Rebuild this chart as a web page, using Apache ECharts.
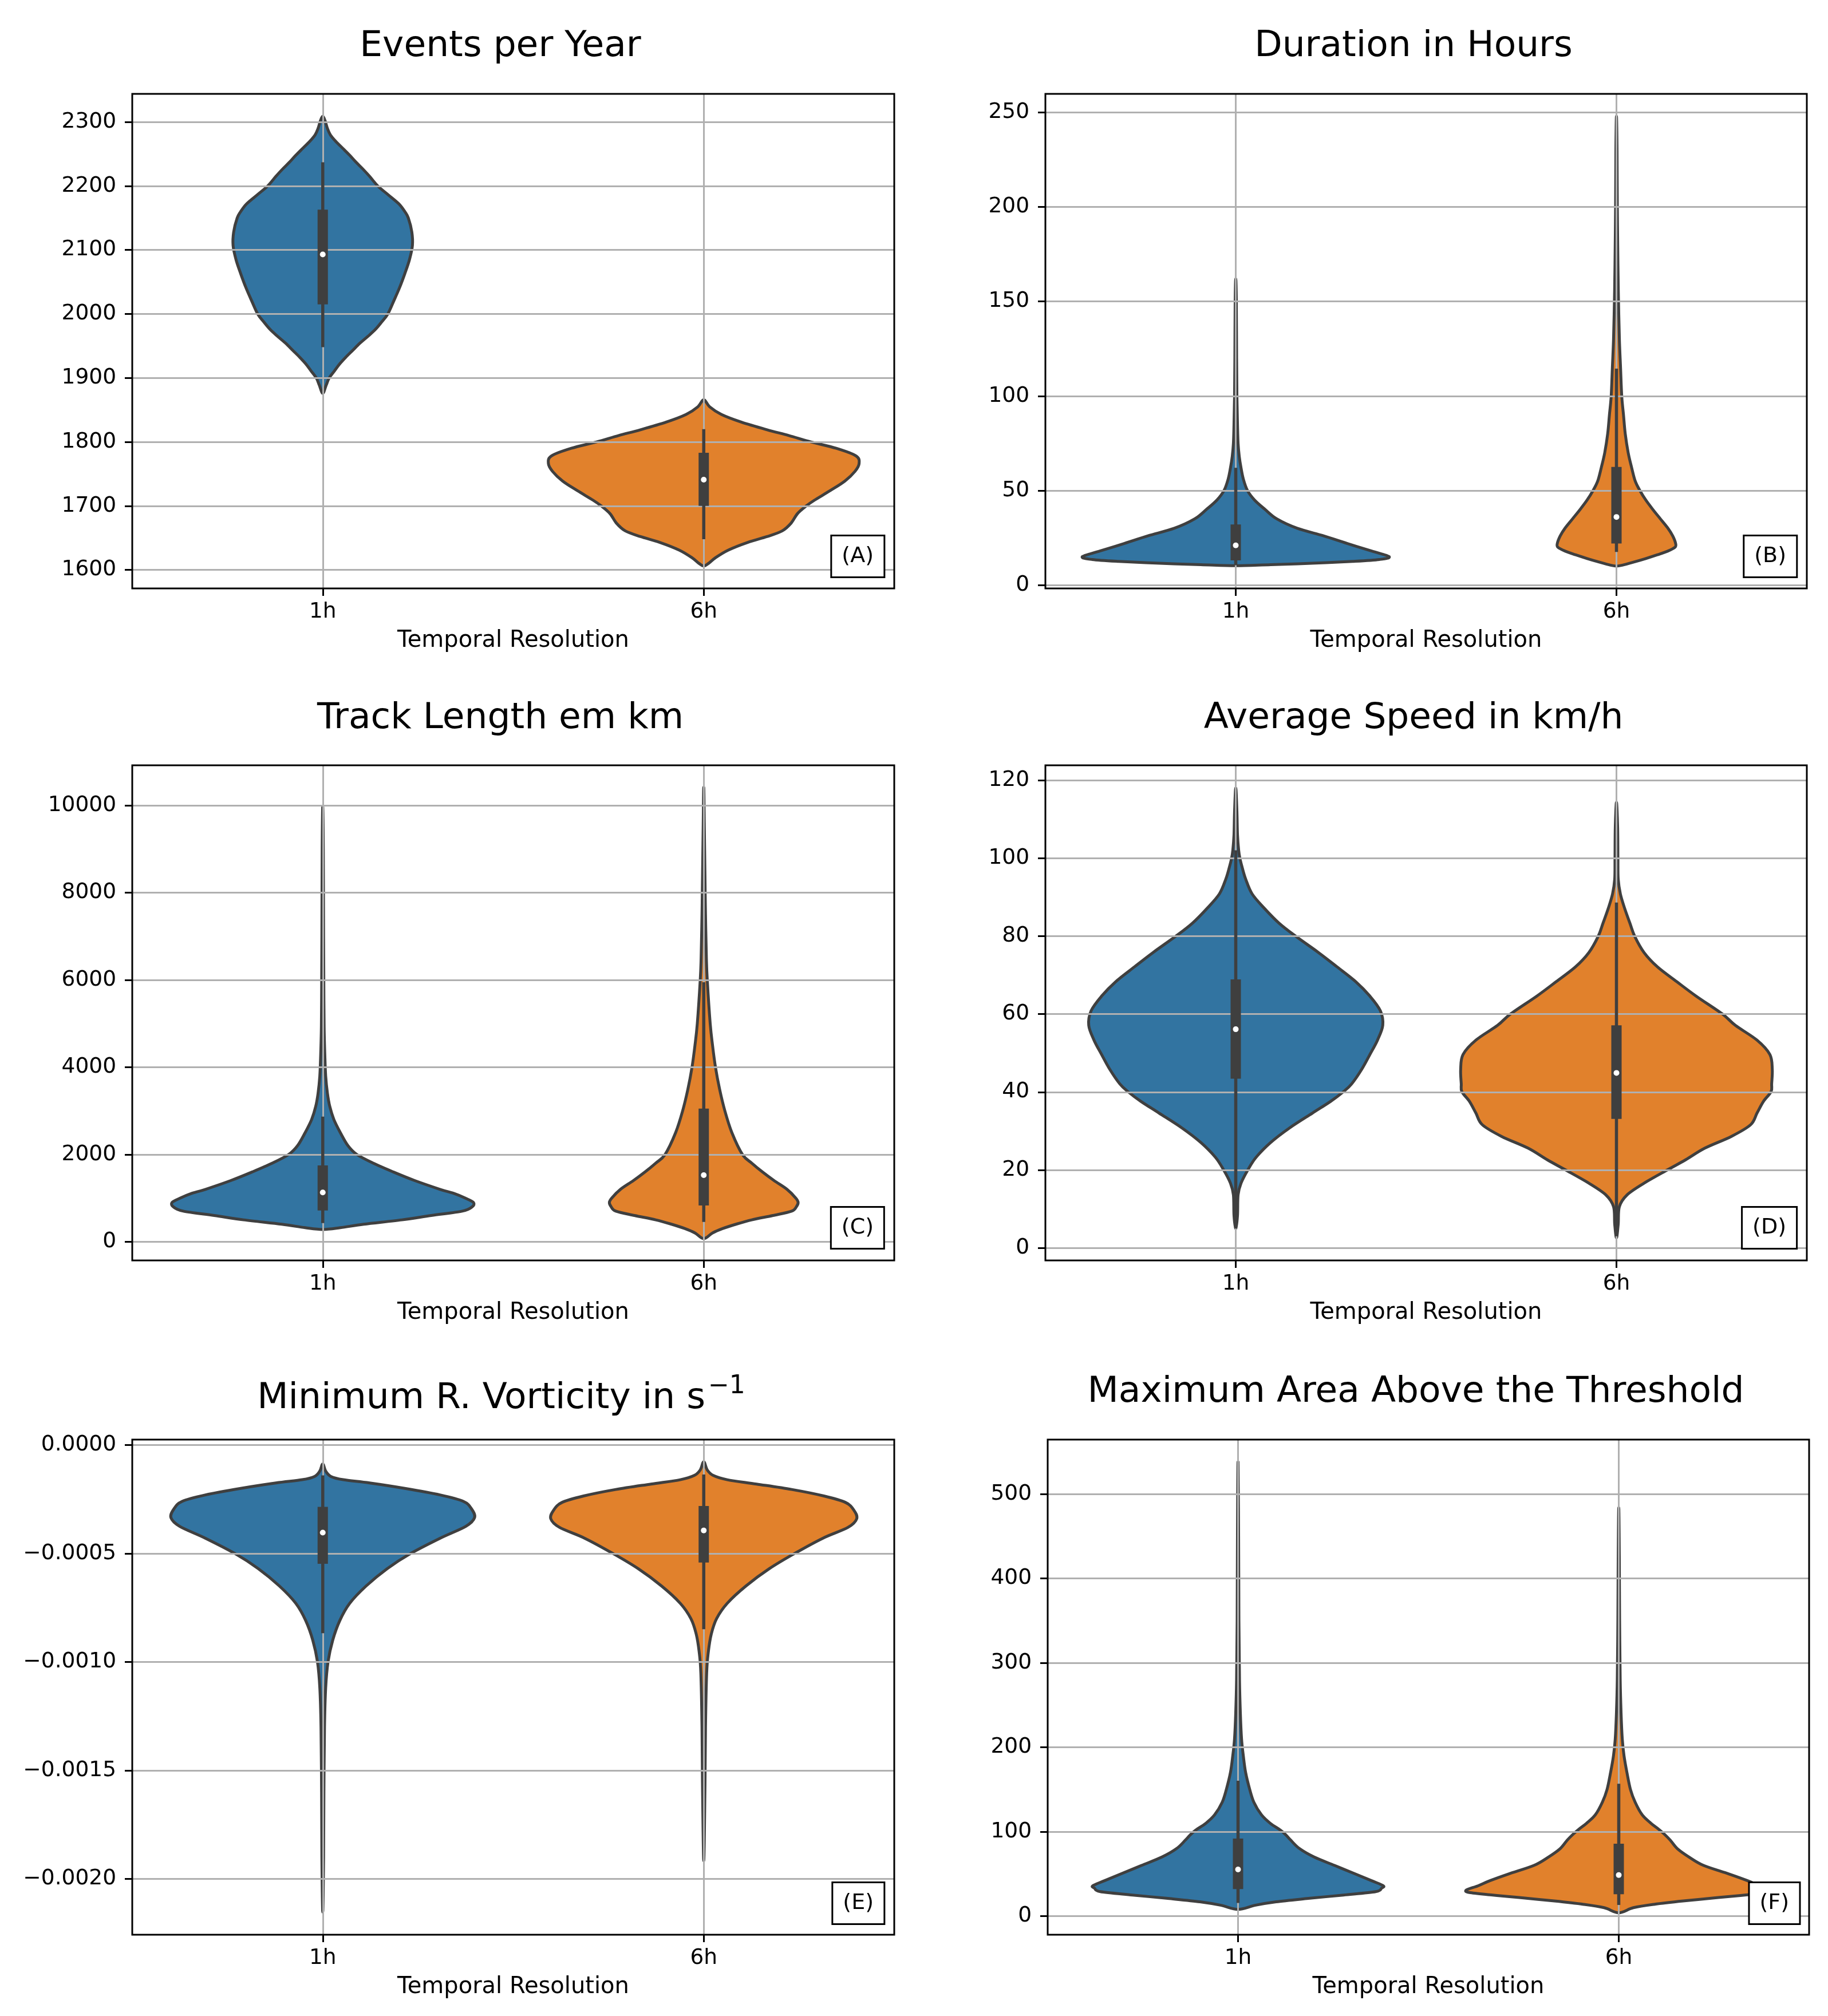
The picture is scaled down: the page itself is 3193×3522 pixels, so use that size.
<!DOCTYPE html>
<html><head><meta charset="utf-8">
<script src="https://cdn.jsdelivr.net/npm/echarts@6/dist/echarts.min.js"></script>
<style>html,body{margin:0;padding:0;background:#fff}#chart{width:3193px;height:3522px}</style>
</head><body><div id="chart"></div><script>
// ---------------- DATA ----------------
const categories = ['1h', '6h'];
const panelTitles = ['Events per Year', 'Duration in Hours', 'Track Length em km', 'Average Speed in km/h', 'Minimum R. Vorticity in s', 'Maximum Area Above the Threshold'];
const titleSuperscript = '\u22121';
const panelTags = ['(A)', '(B)', '(C)', '(D)', '(E)', '(F)'];
const xAxisName = 'Temporal Resolution';

const ticksA = [1600, 1700, 1800, 1900, 2000, 2100, 2200, 2300];
const ticksB = [0, 50, 100, 150, 200, 250];
const ticksC = [0, 2000, 4000, 6000, 8000, 10000];
const ticksD = [0, 20, 40, 60, 80, 100, 120];
const ticksE = [-0.002, -0.0015, -0.001, -0.0005, 0];
const ticksF = [0, 100, 200, 300, 400, 500];

const rangeA = [1571, 2344];
const rangeB = [-1.8, 259.8];
const rangeC = [-430, 10920];
const rangeD = [-3.2, 123.8];
const rangeE = [-0.002258, 0.000025];
const rangeF = [-22, 564.5];

// violin profiles: [value, relative density (half width)]
const eventsH1 = [[2309,0],[2302,4],[2290,8],[2280,13],[2270,22],[2259,34],[2248,46],[2237,57],[2226,69],[2215,80],[2200,94],[2186,112],[2172,130],[2160,140],[2150,146],[2128,152],[2107,153],[2085,148],[2063,140],[2041,131],[2020,121],[2000,111],[1988,101],[1976,90],[1965,77],[1954,63],[1943,51],[1933,40],[1922,29],[1911,20],[1900,11],[1889,6],[1876,0]];
const eventsH6 = [[1866,0],[1855,10],[1843,30],[1831,64],[1819,108],[1810,145],[1800,183],[1790,226],[1778,260],[1766,265],[1754,258],[1739,241],[1724,216],[1709,189],[1700,175],[1688,160],[1673,149],[1661,134],[1652,108],[1643,75],[1631,42],[1619,20],[1610,8],[1606,0]];
const durationH1 = [[162,0],[150,1],[120,1.5],[100,2],[85,3],[75,4],[68,6],[62,9],[56,13],[50,20],[45,32],[40,50],[35,70],[30,105],[26,150],[22,190],[18,232],[15,262],[13.5,245],[12.5,200],[11.5,130],[10.8,60],[10.2,0]];
const durationH6 = [[248,0],[230,1],[200,1.5],[170,2.5],[150,3.5],[130,5],[115,7],[100,9],[90,12],[80,15],[70,20],[62,26],[55,32],[50,40],[45,50],[40,62],[35,75],[30,88],[26,96],[22,101],[20,100],[18,88],[16,70],[14,50],[12,28],[10.5,10],[10,0]];
const trackH1 = [[9980,0],[9000,1],[7000,1.5],[5500,2],[4800,2.5],[4300,3.5],[3800,5],[3400,8],[3100,12],[2800,19],[2500,30],[2200,43],[2000,58],[1800,86],[1600,120],[1400,157],[1200,200],[1100,225],[1000,243],[900,257],[800,255],[700,238],[600,185],[500,135],[400,70],[320,30],[280,0]];
const trackH6 = [[10415,0],[9500,1],[8500,2],[7500,3],[6500,4.5],[6000,6],[5000,11],[4500,15],[4000,20],[3500,27],[3000,36],[2500,48],[2000,66],[1800,82],[1600,100],[1400,120],[1200,142],[1000,157],[900,161],[800,158],[700,150],[600,118],[500,82],[400,55],[300,32],[200,15],[68,0]];
const speedH1 = [[118,0],[112,2],[106,3],[102,5],[100,7],[97.6,11],[94.6,17],[90.8,28],[87.1,49],[83.3,74],[80,102],[75.8,141],[72.1,173],[68.3,205],[64.6,229],[60.8,247],[57.1,251],[53.3,242],[49.6,229],[45.8,215],[42.1,198],[40.1,184],[37.6,162],[34.6,131],[30.8,92],[27.1,60],[23.3,35],[20.1,21],[16.6,9],[13.6,4],[8.3,3],[4.8,0]];
const speedH6 = [[114.3,0],[108,2],[100,2.5],[94.6,3],[90.8,6.7],[87.1,14],[83.3,23],[80,31],[75.8,47],[72.1,70],[68.3,103],[64.6,136],[60,181],[57.1,203],[53.3,240],[49.6,262],[45.8,266],[42.1,265],[40.1,264],[37.6,251],[34.6,240],[31.6,229],[28.6,196],[25.6,151],[22.6,118],[20.1,88],[16.6,47],[13.6,18],[10.6,5],[6.1,3],[2.6,0]];
const vortH1 = [[-0.000087,0],[-0.00012,5],[-0.000145,14],[-0.00016,35],[-0.000175,80],[-0.0002,140],[-0.00023,200],[-0.00026,240],[-0.000295,254],[-0.000335,259],[-0.000375,244],[-0.00043,200],[-0.0005,150],[-0.00057,110],[-0.00065,74],[-0.00073,46],[-0.00081,29],[-0.0009,17],[-0.001,9],[-0.00112,5],[-0.0013,3],[-0.0016,2],[-0.0019,1.5],[-0.002154,0]];
const vortH6 = [[-0.000077,0],[-0.000115,6],[-0.00014,16],[-0.00016,40],[-0.00018,90],[-0.000205,150],[-0.000235,205],[-0.000265,242],[-0.0003,256],[-0.00034,261],[-0.00038,246],[-0.00043,203],[-0.0005,155],[-0.00057,112],[-0.00065,72],[-0.00073,40],[-0.0008,22],[-0.00087,13],[-0.00095,8],[-0.00105,5],[-0.0013,3],[-0.0016,2],[-0.001917,0]];
const areaH1 = [[538,0],[450,1],[350,1.5],[280,2.5],[240,4],[210,6],[190,9],[170,13],[150,20],[135,27],[120,40],[110,55],[102,72],[96,82],[90,90],[80,105],[70,130],[60,165],[50,200],[42,228],[36,248],[33,245],[29,235],[25,180],[21,120],[17,65],[13,30],[8,0]];
const areaH6 = [[484,0],[420,1],[350,1.5],[280,2.5],[240,4],[210,6],[190,9],[170,14],[150,20],[135,28],[120,40],[110,55],[103,68],[97,78],[90,88],[80,100],[70,120],[60,145],[50,188],[42,220],[36,240],[31,260],[28,255],[25,215],[22,170],[18,110],[14,60],[10,25],[4,0]];

// box stats: [lower whisker, q1, median, q3, upper whisker]
const boxA1 = [1948, 2015, 2093, 2163, 2237];
const boxA6 = [1648, 1700, 1741, 1783, 1820];
const boxB1 = [10.5, 13, 21, 32, 62];
const boxB6 = [17.5, 22, 36, 62.5, 114.5];
const boxC1 = [425, 714, 1129, 1747, 2867];
const boxC6 = [454, 830, 1525, 3050, 5946];
const boxD1 = [5, 43.4, 56.1, 68.9, 102];
const boxD6 = [3, 33.1, 44.9, 57.1, 88.6];
const boxE1 = [-0.000868, -0.000548, -0.000404, -0.000285, -0.00014];
const boxE6 = [-0.000849, -0.000542, -0.000394, -0.000281, -0.000136];
const boxF1 = [15.7, 32, 55.3, 91.9, 160.4];
const boxF6 = [13.2, 25.9, 48.7, 85.8, 156.9];

// ---------------- STYLE / LAYOUT ----------------
const FONT = '"DejaVu Sans", "Liberation Sans", sans-serif';
const COLORS = ['#3274a1', '#e1812c'];
const EDGE = '#3f3f3f';
const GRIDLINE = '#b0b0b0';
const DENSITY_TO_BAND = 1 / 650;
const TITLE_SIZE = 63;
const layout = [
  {left: 231, top: 164, width: 1331, height: 864, titleX: 874, titleY: 82},
  {left: 1826, top: 164, width: 1330, height: 864, titleX: 2469, titleY: 82},
  {left: 231, top: 1337, width: 1331, height: 865, titleX: 874, titleY: 1256},
  {left: 1826, top: 1337, width: 1330, height: 865, titleX: 2469, titleY: 1256},
  {left: 231, top: 2515, width: 1331, height: 865, titleX: 1232, titleY: 2444},
  {left: 1830, top: 2515, width: 1330, height: 865, titleX: 2473, titleY: 2433}
];
const tagPos = [
  {right: 1648, bottom: 2513}, {right: 54, bottom: 2513},
  {right: 1648, bottom: 1340}, {right: 54, bottom: 1340},
  {right: 1648, bottom: 160}, {right: 49, bottom: 160}
];

const panels = [
  {ticks: ticksA, range: rangeA, step: 100, profiles: [eventsH1, eventsH6], boxes: [boxA1, boxA6]},
  {ticks: ticksB, range: rangeB, step: 50, profiles: [durationH1, durationH6], boxes: [boxB1, boxB6]},
  {ticks: ticksC, range: rangeC, step: 2000, profiles: [trackH1, trackH6], boxes: [boxC1, boxC6]},
  {ticks: ticksD, range: rangeD, step: 20, profiles: [speedH1, speedH6], boxes: [boxD1, boxD6]},
  {ticks: ticksE, range: rangeE, step: 0.0005, profiles: [vortH1, vortH6], boxes: [boxE1, boxE6], fmt: v => (Math.abs(v) < 1e-12 ? 0 : v).toFixed(4).replace('-', '\u2212')},
  {ticks: ticksF, range: rangeF, step: 100, profiles: [areaH1, areaH6], boxes: [boxF1, boxF6]}
];

// closed Catmull-Rom outline through pixel points (rendering only)
function smoothClosedPath(pts) {
  const n = pts.length;
  const P = i => pts[(i + n) % n];
  let d = 'M' + pts[0][0].toFixed(2) + ' ' + pts[0][1].toFixed(2);
  const t = 1 / 6;
  for (let i = 0; i < n; i++) {
    const p0 = P(i - 1), p1 = P(i), p2 = P(i + 1), p3 = P(i + 2);
    const c1 = [p1[0] + (p2[0] - p0[0]) * t, p1[1] + (p2[1] - p0[1]) * t];
    const c2 = [p2[0] - (p3[0] - p1[0]) * t, p2[1] - (p3[1] - p1[1]) * t];
    d += 'C' + c1[0].toFixed(2) + ' ' + c1[1].toFixed(2) + ' ' + c2[0].toFixed(2) + ' ' + c2[1].toFixed(2) + ' ' + p2[0].toFixed(2) + ' ' + p2[1].toFixed(2);
  }
  return d + 'Z';
}

function violinRender(profile, cat, color) {
  return function (params, api) {
    const band = api.size([1, 0])[0];
    const right = [], left = [];
    profile.forEach(function (p) {
      const c = api.coord([cat, p[0]]);
      const hw = p[1] * DENSITY_TO_BAND * band;
      right.push([c[0] + hw, c[1]]);
      if (p[1] > 0) left.push([c[0] - hw, c[1]]);
    });
    const pts = right.concat(left.reverse());
    return {
      type: 'path',
      shape: {pathData: smoothClosedPath(pts)},
      style: {fill: color, stroke: EDGE, lineWidth: 5, lineJoin: 'round'}
    };
  };
}

function boxRender(box, cat) {
  return function (params, api) {
    const lo = api.coord([cat, box[0]]);
    const q1 = api.coord([cat, box[1]]);
    const md = api.coord([cat, box[2]]);
    const q3 = api.coord([cat, box[3]]);
    const hi = api.coord([cat, box[4]]);
    return {
      type: 'group',
      children: [
        {type: 'line', shape: {x1: lo[0], y1: lo[1], x2: hi[0], y2: hi[1]}, style: {stroke: EDGE, lineWidth: 5.5}},
        {type: 'rect', shape: {x: q1[0] - 9, y: q3[1], width: 18, height: q1[1] - q3[1]}, style: {fill: EDGE}},
        {type: 'circle', shape: {cx: md[0], cy: md[1], r: 5}, style: {fill: '#ffffff'}}
      ]
    };
  };
}

const grids = [], xAxes = [], yAxes = [], series = [], titleComps = [], graphics = [];
panels.forEach(function (p, i) {
  const L = layout[i];
  grids.push({left: L.left, top: L.top, width: L.width, height: L.height, show: true,
    borderColor: '#000', borderWidth: 3, backgroundColor: 'transparent', z: 4});
  xAxes.push({
    gridIndex: i, type: 'value', min: -0.5, max: 1.5, minInterval: 1, maxInterval: 1, z: 2,
    axisLine: {show: false, onZero: false},
    axisTick: {show: true, length: 13, customValues: [0, 1], lineStyle: {color: '#000', width: 3}},
    axisLabel: {customValues: [0, 1], formatter: v => categories[Math.round(v)] || '', margin: 22,
      fontSize: 37.5, color: '#000', fontFamily: FONT},
    splitLine: {show: true, lineStyle: {color: GRIDLINE, width: 3}},
    name: xAxisName, nameLocation: 'middle', nameGap: 72,
    nameTextStyle: {fontSize: 40, color: '#000', fontFamily: FONT}
  });
  yAxes.push({
    gridIndex: i, type: 'value', min: p.range[0], max: p.range[1], minInterval: p.step, maxInterval: p.step, z: 2,
    axisLine: {show: false, onZero: false},
    axisTick: {show: true, length: 13, customValues: p.ticks, lineStyle: {color: '#000', width: 3}},
    axisLabel: {customValues: p.ticks, formatter: p.fmt || (v => String(Math.round(v))), margin: 28,
      fontSize: 37.5, color: '#000', fontFamily: FONT},
    splitLine: {show: true, lineStyle: {color: GRIDLINE, width: 3}}
  });
  categories.forEach(function (c, k) {
    series.push({type: 'custom', xAxisIndex: i, yAxisIndex: i, z: 1, clip: true,
      data: [[k, p.boxes[k][2]]], encode: {x: 0, y: 1},
      renderItem: violinRender(p.profiles[k], k, COLORS[k])});
  });
  categories.forEach(function (c, k) {
    series.push({type: 'custom', xAxisIndex: i, yAxisIndex: i, z: 5, clip: true,
      data: [[k, p.boxes[k][2]]], encode: {x: 0, y: 1},
      renderItem: boxRender(p.boxes[k], k)});
  });
  titleComps.push(Object.assign({
    text: panelTags[i], padding: [15, 19], borderColor: '#000', borderWidth: 3, backgroundColor: '#fff', z: 10,
    textStyle: {fontSize: 38, fontWeight: 'normal', color: '#000', fontFamily: FONT, lineHeight: 44}
  }, tagPos[i]));
  if (i === 4) {
    graphics.push({type: 'text', x: L.titleX, y: L.titleY, style: {text: panelTitles[i], font: TITLE_SIZE + 'px ' + FONT, fill: '#000',
      align: 'right', verticalAlign: 'middle', textAlign: 'right', textVerticalAlign: 'middle'}});
    graphics.push({type: 'text', x: L.titleX + 5, y: L.titleY - 21, style: {text: titleSuperscript, font: '44px ' + FONT, fill: '#000',
      align: 'left', verticalAlign: 'middle', textAlign: 'left', textVerticalAlign: 'middle'}});
  } else {
    graphics.push({type: 'text', x: L.titleX, y: L.titleY, style: {text: panelTitles[i], font: TITLE_SIZE + 'px ' + FONT, fill: '#000',
      align: 'center', verticalAlign: 'middle', textAlign: 'center', textVerticalAlign: 'middle'}});
  }
});

const chart = echarts.init(document.getElementById('chart'), null, {renderer: 'canvas'});
chart.setOption({
  backgroundColor: '#ffffff',
  animation: false,
  title: titleComps,
  grid: grids,
  xAxis: xAxes,
  yAxis: yAxes,
  series: series,
  graphic: graphics
});
</script></body></html>
